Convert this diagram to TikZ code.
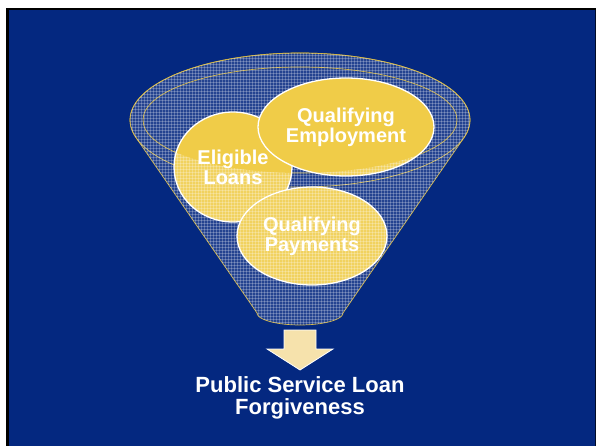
\documentclass[tikz,border=0pt]{standalone}
\usepackage{fontspec}
\setmainfont{Liberation Sans}
\usetikzlibrary{shapes.geometric}
\definecolor{slideblue}{RGB}{4,40,128}
\definecolor{gold}{RGB}{240,204,72}
\definecolor{rimgold}{RGB}{205,175,60}
\definecolor{cream}{RGB}{246,226,172}

% outline of the funnel: upper rim arc, straight sides and rounded spout
\def\funnelpath{plot[domain=164.67:375.33,samples=90] ({300+170*cos(\x)},{120+67*sin(\x)}) -- (343,313) -- plot[domain=0:180,samples=30] ({300+43*cos(\x)},{313+12*sin(\x)}) -- cycle}
% fine white plaid used as the translucent glass texture
\newcommand\meshgrid{%
  \fill[white, opacity=0.13] (110,40) rectangle (490,340);
  \foreach \i in {120,123,...,484} \draw[mesh] (\i,40) -- (\i,340);
  \foreach \j in {40,43,...,340} \draw[mesh] (110,\j) -- (490,\j);}

\begin{document}
\begin{tikzpicture}[x=1pt,y=-1pt,
  bubble/.style={ellipse, draw=white, line width=1.3pt, fill=gold, text=white,
    font=\fontsize{20}{20}\selectfont\bfseries, align=center, inner sep=0pt},
  rim/.style={draw=rimgold, line width=0.7pt},
  mesh/.style={draw=white, opacity=0.24, line width=0.6pt},
  caption/.style={text=white, font=\fontsize{22}{22}\selectfont\bfseries, align=center}]
\useasboundingbox (0,0) rectangle (596,446);

% slide background and frame
\fill[white] (0,0) rectangle (596,446);
\fill[slideblue] (8,9) rectangle (596,446);
\fill[black] (6,8) rectangle (596,10.5);
\fill[black] (6,8) rectangle (9,446);
\fill[black!70!slideblue] (595,10) rectangle (596,446);

% inside of the funnel opening
\begin{scope}
  \clip (300,120) ellipse [x radius=157, y radius=53];
  \meshgrid
\end{scope}

% gold edges of the funnel
\draw[rim] \funnelpath;
\draw[rim] (300,120) ellipse [x radius=170, y radius=67];
\draw[rim] (300,120) ellipse [x radius=157, y radius=53];

% the three requirements
\node[bubble, minimum width=118pt, minimum height=110pt] (loans) at (233,167) {Eligible\\Loans};
\node[bubble, minimum width=176pt, minimum height=98pt] (employment) at (346,127) {Qualifying\\Employment};
\node[bubble, minimum width=150pt, minimum height=98pt] (payments) at (312,236) {Qualifying\\Payments};

% front wall of the funnel, seen through
\begin{scope}[even odd rule]
  \clip \funnelpath (300,120) ellipse [x radius=157, y radius=53];
  \meshgrid
\end{scope}

% outcome arrow and caption
\draw[white, line width=0.8pt, fill=cream]
  (284,330) -- (316,330) -- (316,349) -- (333,349) -- (300,370) -- (267,349) -- (284,349) -- cycle;
\node[caption] (result) at (300,398) {Public Service Loan\\Forgiveness};
\end{tikzpicture}
\end{document}
